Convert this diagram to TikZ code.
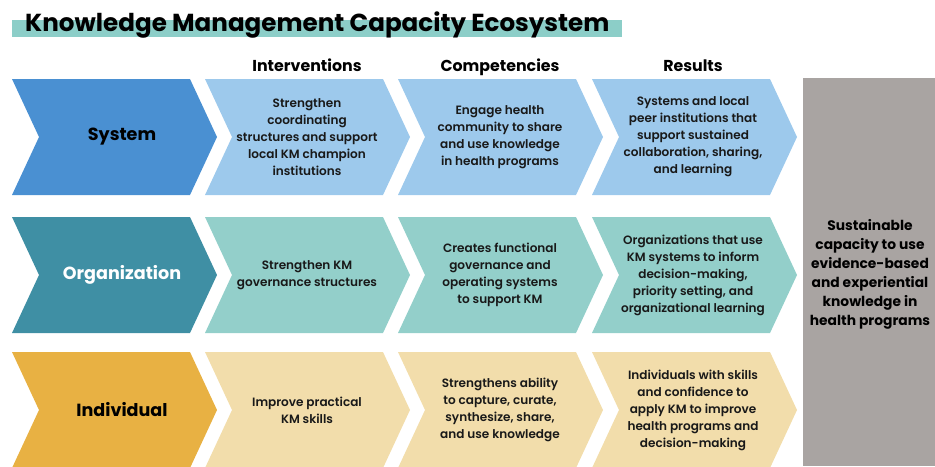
\documentclass[tikz,border=0pt]{standalone}
\usepackage{fontspec}
\setmainfont{Poppins}
\newfontfamily\medfont{Poppins SemiBold}
\usetikzlibrary{positioning}

\definecolor{sysdark}{HTML}{4A90D2}
\definecolor{syslight}{HTML}{9DC9EC}
\definecolor{orgdark}{HTML}{3F8FA4}
\definecolor{orglight}{HTML}{93CFCA}
\definecolor{inddark}{HTML}{E8B143}
\definecolor{indlight}{HTML}{F2DDAB}
\definecolor{goalgray}{HTML}{A9A4A2}
\definecolor{titlebar}{HTML}{8CCEC8}

% chevron: left x, middle y, fill colour
\newcommand{\chevron}[3]{%
  \fill[#3] (#1,#2) ++(0,-58) -- ++(178,0) -- ++(27,58) -- ++(-27,58)
    -- ++(-178,0) -- ++(27,-58) -- cycle;}

\begin{document}
\begin{tikzpicture}[
  x=0.03cm, y=-0.03cm,
  title/.style={font=\bfseries\fontsize{21}{24}\selectfont, inner sep=0pt, anchor=base west},
  head/.style={font=\bfseries\fontsize{13.5}{15}\selectfont, inner sep=0pt, anchor=base},
  level/.style={font=\bfseries\fontsize{15}{17}\selectfont, inner sep=0pt},
  body/.style={font=\medfont\fontsize{10.3}{14.5}\selectfont, text=black!90,
               align=center, inner sep=0pt},
  goal/.style={font=\bfseries\fontsize{11.8}{16.2}\selectfont, align=center, inner sep=0pt}
]
\useasboundingbox (0,0) rectangle (935,466);

% title
\fill[titlebar] (12,20) rectangle (622,37);
\node[title] (ttl) at (25,31) {Knowledge Management Capacity Ecosystem};

% column heads
\node[head] (h-int) at (307,71) {Interventions};
\node[head] (h-comp) at (500,71) {Competencies};
\node[head] (h-res) at (693,71) {Results};

% chevrons
\chevron{12}{137}{sysdark}
\chevron{205}{137}{syslight}
\chevron{398}{137}{syslight}
\chevron{592}{137}{syslight}
\chevron{12}{275}{orgdark}
\chevron{205}{275}{orglight}
\chevron{398}{275}{orglight}
\chevron{592}{275}{orglight}
\chevron{12}{410}{inddark}
\chevron{205}{410}{indlight}
\chevron{398}{410}{indlight}
\chevron{592}{410}{indlight}

% outcome column
\fill[goalgray] (803,78) rectangle (935,466);
\node[goal] (goal) at (870,274) {Sustainable\\capacity to use\\evidence-based\\and experiential\\knowledge in\\health programs};

% system row
\node[level] (sys) at (122,137) {System};
\node[body] (sys-int) at (307,137) {Strengthen\\coordinating\\structures and support\\local KM champion\\institutions};
\node[body] (sys-comp) at (500,137) {Engage health\\community to share\\and use knowledge\\in health programs};
\node[body] (sys-res) at (693,137) {Systems and local\\peer institutions that\\support sustained\\collaboration, sharing,\\and learning};

% organization row
\node[level, text=white] (org) at (122,275) {Organization};
\node[body] (org-int) at (307,275) {Strengthen KM\\governance structures};
\node[body] (org-comp) at (500,275) {Creates functional\\governance and\\operating systems\\to support KM};
\node[body] (org-res) at (693,275) {Organizations that use\\KM systems to inform\\decision-making,\\priority setting, and\\organizational learning};

% individual row
\node[level] (ind) at (122,410) {Individual};
\node[body] (ind-int) at (307,410) {Improve practical\\KM skills};
\node[body] (ind-comp) at (500,410) {Strengthens ability\\to capture, curate,\\synthesize, share,\\and use knowledge};
\node[body] (ind-res) at (693,410) {Individuals with skills\\and confidence to\\apply KM to improve\\health programs and\\decision-making};
\end{tikzpicture}
\end{document}
